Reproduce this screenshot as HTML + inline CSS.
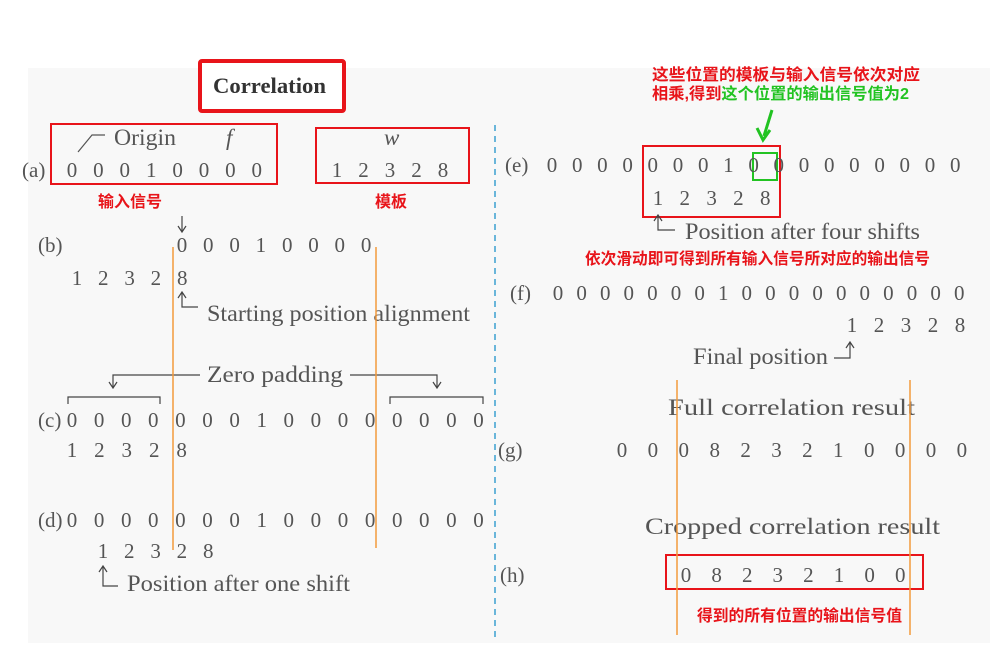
<!DOCTYPE html>
<html><head><meta charset="utf-8"><style>
body{margin:0;background:#fff;}
svg{display:block;}
.d{font-family:"Liberation Serif",serif;font-size:21px;fill:#555;text-anchor:middle;}
.l{font-family:"Liberation Serif",serif;font-size:23px;fill:#555;}
.rl{font-family:"Liberation Serif",serif;font-size:21px;fill:#555;}
.cn{font-family:"Liberation Sans","Noto Sans CJK SC",sans-serif;font-size:16px;font-weight:bold;fill:#e8141a;}
.gn{font-family:"Liberation Sans","Noto Sans CJK SC",sans-serif;font-size:16px;font-weight:bold;fill:#22c322;}
</style></head><body>
<svg id="s" width="998" height="664" viewBox="0 0 998 664" xmlns="http://www.w3.org/2000/svg">
<rect x="28" y="68" width="962" height="575" fill="#f8f8f8"/>
<line x1="495" y1="125" x2="495" y2="642" stroke="#3aa0d0" stroke-width="1.5" stroke-dasharray="6,5"/>
<rect x="200" y="61" width="144" height="50" fill="#fff" stroke="#e8141a" stroke-width="4" rx="2"/>
<text x="213" y="93" textLength="113" lengthAdjust="spacingAndGlyphs" font-family="Liberation Serif,serif" font-weight="bold" font-size="22" fill="#333">Correlation</text>
<rect x="51" y="124" width="226" height="60" fill="none" stroke="#e8141a" stroke-width="2"/>
<rect x="316" y="128" width="153" height="55" fill="none" stroke="#e8141a" stroke-width="2"/>
<text class="l" x="114" y="145" textLength="62" lengthAdjust="spacingAndGlyphs">Origin</text>
<path d="M105,135 L92,135 L78,152" fill="none" stroke="#555" stroke-width="1.2"/>
<text class="l" x="226" y="145" font-style="italic">f</text>
<text class="l" x="384" y="145" font-style="italic">w</text>
<text class="cn" x="98" y="207">输入信号</text>
<text class="cn" x="375" y="207">模板</text>
<path d="M182,216 L182,232 M178,226 L182,232 L186,226" fill="none" stroke="#444" stroke-width="1.2"/>
<path d="M182,292 L182,307 L198,307 M178,298 L182,292 L186,298" fill="none" stroke="#444" stroke-width="1.2"/>
<text class="l" x="207" y="321" textLength="263" lengthAdjust="spacingAndGlyphs">Starting position alignment</text>
<text class="l" x="207" y="382" textLength="136" lengthAdjust="spacingAndGlyphs">Zero padding</text>
<path d="M200,375 L113,375 L113,388 M109,382 L113,388 L117,382 M350,375 L437,375 L437,388 M433,382 L437,388 L441,382" fill="none" stroke="#444" stroke-width="1.2"/>
<path d="M68,404 L68,397 L160,397 L160,404 M390,404 L390,397 L483,397 L483,404" fill="none" stroke="#444" stroke-width="1.2"/>
<path d="M103,580 L103,566 M99,572 L103,566 L107,572 M103,580 L103,586 L118,586" fill="none" stroke="#444" stroke-width="1.2"/>
<text class="l" x="127" y="591" textLength="223" lengthAdjust="spacingAndGlyphs">Position after one shift</text>
<text class="cn" x="652" y="80" textLength="268" lengthAdjust="spacingAndGlyphs">这些位置的模板与输入信号依次对应</text>
<text class="cn" x="652" y="99" textLength="257" lengthAdjust="spacingAndGlyphs">相乘,得到<tspan class="gn">这个位置的输出信号值为2</tspan></text>
<path d="M772,110 L764,136 M757,128 L763,140 L770,130" fill="none" stroke="#22c322" stroke-width="3"/>
<rect x="643" y="146" width="137" height="71" fill="none" stroke="#e8141a" stroke-width="2"/>
<rect x="753" y="153" width="24" height="27" fill="none" stroke="#22c322" stroke-width="2"/>
<path d="M658,215 L658,230 L675,230 M654,221 L658,215 L662,221" fill="none" stroke="#444" stroke-width="1.2"/>
<text class="l" x="685" y="239" textLength="235" lengthAdjust="spacingAndGlyphs">Position after four shifts</text>
<text class="cn" x="585" y="264" textLength="345" lengthAdjust="spacingAndGlyphs">依次滑动即可得到所有输入信号所对应的输出信号</text>
<text class="l" x="693" y="364" textLength="135" lengthAdjust="spacingAndGlyphs">Final position</text>
<path d="M834,358 L850,358 L850,342 M846,348 L850,342 L854,348" fill="none" stroke="#444" stroke-width="1.2"/>
<text class="l" x="668" y="415" textLength="247" lengthAdjust="spacingAndGlyphs" font-size="24">Full correlation result</text>
<text class="l" x="645" y="534" textLength="295" lengthAdjust="spacingAndGlyphs" font-size="24">Cropped correlation result</text>
<rect x="666" y="555" width="257" height="34" fill="none" stroke="#e8141a" stroke-width="2"/>
<text class="cn" x="697" y="621" textLength="205" lengthAdjust="spacingAndGlyphs">得到的所有位置的输出信号值</text>
<line x1="173" y1="247" x2="173" y2="550" stroke="#f39a3c" stroke-width="1.5"/>
<line x1="376" y1="247" x2="376" y2="548" stroke="#f39a3c" stroke-width="1.5"/>
<line x1="677" y1="380" x2="677" y2="635" stroke="#f39a3c" stroke-width="1.5"/>
<line x1="910" y1="380" x2="910" y2="635" stroke="#f39a3c" stroke-width="1.5"/>
<g id="rows"></g>
</svg>
<script>
const rowLabels=["(a)","(b)","(c)","(d)","(e)","(f)","(g)","(h)"];
const rowA=[0,0,0,1,0,0,0,0];
const template=[1,2,3,2,8];
const rowB=[0,0,0,1,0,0,0,0];
const rowC=[0,0,0,0,0,0,0,1,0,0,0,0,0,0,0,0];
const rowE=[0,0,0,0,0,0,0,1,0,0,0,0,0,0,0,0,0];
const rowF=[0,0,0,0,0,0,0,1,0,0,0,0,0,0,0,0,0,0];
const rowG=[0,0,0,8,2,3,2,1,0,0,0,0];
const rowH=[0,8,2,3,2,1,0,0];
const g=document.getElementById('rows');
const NS='http://www.w3.org/2000/svg';
function txt(x,y,s,cls,name){const t=document.createElementNS(NS,'text');t.setAttribute('x',x);t.setAttribute('y',y);t.setAttribute('class',cls);t.textContent=s;


g.appendChild(t);}
function row(arr,x0,step,y,name){arr.forEach((v,i)=>txt(x0+i*step,y,String(v),'d',name));}
const labelPos=[[22,177],[38,252],[38,427],[38,527],[505,172],[510,300],[498,457],[500,582]];
rowLabels.forEach((s,i)=>txt(labelPos[i][0],labelPos[i][1],s,'rl','row-label-'+s.replace(/[()]/g,'')));
row(rowA,72,26.4,177,'input-digit');
row(template,337,26.5,177,'template-digit');
row(rowB,182,26.3,252,'b-digit');
row(template,77,26.3,285,'b-template-digit');
row(rowC,72,27.1,427,'c-digit');
row(template,72,27.4,457,'c-template-digit');
row(rowC,72,27.1,527,'d-digit');
row(template,103,26.3,558,'d-template-digit');
row(rowE,552,25.2,172,'e-digit');
row(template,658,26.8,205,'e-template-digit');
row(rowF,558,23.6,300,'f-digit');
row(template,852,27,332,'f-template-digit');
row(rowG,622,30.9,457,'g-digit');
row(rowH,686,30.6,582,'h-digit');
</script>
</body></html>
